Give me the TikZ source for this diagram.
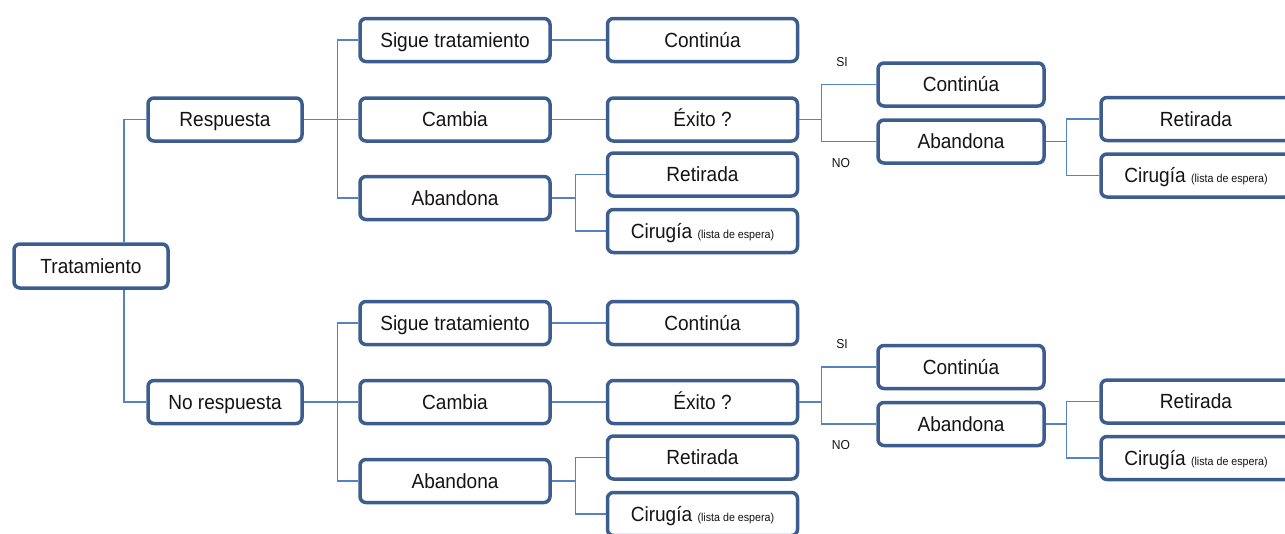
\documentclass[tikz,border=0pt]{standalone}
\usepackage{fontspec}
\setmainfont{Liberation Sans}[FakeStretch=0.93]
\definecolor{boxborder}{RGB}{60,93,142}
\definecolor{connline}{RGB}{84,130,196}
\tikzset{
  box/.style={draw=boxborder, line width=3.5pt, rounded corners=6pt, fill=white,
    minimum height=43pt, inner sep=0pt, text height=14.6pt, text depth=0pt,
    font=\fontsize{20.5}{22}\selectfont, text=black!92},
  wA/.style={minimum width=154pt},
  wB/.style={minimum width=190pt},
  wC/.style={minimum width=166pt},
  conn/.style={draw=connline, line width=1.3pt},
  lbl/.style={font=\fontsize{13}{14}\selectfont, inner sep=0pt, text=black!92},
}
\newcommand{\sm}[1]{{\fontsize{11.5}{12}\selectfont #1}}
\begin{document}
\begin{tikzpicture}[x=1pt,y=-1pt]
\useasboundingbox (0,0) rectangle (1285,533);
\clip (0,0) rectangle (1285,533);
\coordinate (tx) at (124,0);
% root
\node[box,wA,minimum height=44pt] (T) at (91,266) {Tratamiento};
% top half
\node[box,wA] (R) at (225,119.5) {Respuesta};
\node[box,wB] (S1) at (455,40) {Sigue tratamiento};
\node[box,wB] (C1) at (455,119.5) {Cambia};
\node[box,wB] (A1) at (455,198) {Abandona};
\node[box,wB] (K1) at (702.5,40) {Continúa};
\node[box,wB] (E1) at (702.5,119.5) {Éxito ?};
\node[box,wB] (Re1) at (702.5,174.5) {Retirada};
\node[box,wB] (Ci1) at (702.5,231) {Cirugía \sm{(lista de espera)}};
\node[box,wC] (K2) at (961,84.5) {Continúa};
\node[box,wC] (A2) at (961,141.5) {Abandona};
\node[box,wB] (Re2) at (1196,119) {Retirada};
\node[box,wB] (Ci2) at (1196,175.5) {Cirugía \sm{(lista de espera)}};
\node[lbl] (si1) at (842,62) {SI};
\node[lbl] (no1) at (841,163) {NO};
% bottom half
\node[box,wA] (N) at (225,402) {No respuesta};
\node[box,wB] (S3) at (455,323) {Sigue tratamiento};
\node[box,wB] (C3) at (455,402) {Cambia};
\node[box,wB] (A3) at (455,481) {Abandona};
\node[box,wB] (K3) at (702.5,323) {Continúa};
\node[box,wB] (E3) at (702.5,402) {Éxito ?};
\node[box,wB] (Re3) at (702.5,457.5) {Retirada};
\node[box,wB] (Ci3) at (702.5,514) {Cirugía \sm{(lista de espera)}};
\node[box,wC] (K4) at (961,367) {Continúa};
\node[box,wC] (A4) at (961,424) {Abandona};
\node[box,wB] (Re4) at (1196,401.5) {Retirada};
\node[box,wB] (Ci4) at (1196,458) {Cirugía \sm{(lista de espera)}};
\node[lbl] (si3) at (842,344.5) {SI};
\node[lbl] (no3) at (841,445.5) {NO};
% connectors
\draw[conn] (T.north -| tx) |- (R.west);
\draw[conn] (T.south -| tx) |- (N.west);
% top
\draw[conn] (R.east) -- (C1.west);
\draw[conn] (S1.west) -- ++(-21,0) |- (A1.west);
\draw[conn] (S1.east) -- (K1.west);
\draw[conn] (C1.east) -- (E1.west);
\draw[conn] (A1.east) -- ++(24,0) coordinate (a1);
\draw[conn] (Re1.west) -| (a1) |- (Ci1.west);
\draw[conn] (E1.east) -- ++(22,0) coordinate (e1);
\draw[conn] (K2.west) -| (e1) |- (A2.west);
\draw[conn] (A2.east) -- ++(21,0) coordinate (b1);
\draw[conn] (Re2.west) -| (b1) |- (Ci2.west);
% bottom
\draw[conn] (N.east) -- (C3.west);
\draw[conn] (S3.west) -- ++(-21,0) |- (A3.west);
\draw[conn] (S3.east) -- (K3.west);
\draw[conn] (C3.east) -- (E3.west);
\draw[conn] (A3.east) -- ++(24,0) coordinate (a3);
\draw[conn] (Re3.west) -| (a3) |- (Ci3.west);
\draw[conn] (E3.east) -- ++(22,0) coordinate (e3);
\draw[conn] (K4.west) -| (e3) |- (A4.west);
\draw[conn] (A4.east) -- ++(21,0) coordinate (b3);
\draw[conn] (Re4.west) -| (b3) |- (Ci4.west);
\end{tikzpicture}
\end{document}
